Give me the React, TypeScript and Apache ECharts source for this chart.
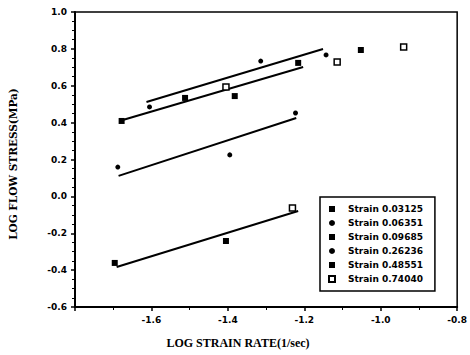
import React, { useEffect, useRef } from "react";
import * as echarts from "echarts";

const seriesNames = [
  "Strain 0.03125",
  "Strain 0.06351",
  "Strain 0.09685",
  "Strain 0.26236",
  "Strain 0.48551",
  "Strain 0.74040",
];

const s1 = [[-1.696, -0.361], [-1.405, -0.242]];
const s2 = [[-1.688, 0.159], [-1.395, 0.225], [-1.223, 0.452]];
const s3 = [[-1.678, 0.409], [-1.512, 0.534], [-1.382, 0.544]];
const s4 = [[-1.605, 0.485], [-1.314, 0.734], [-1.143, 0.767]];
const s5 = [[-1.216, 0.724], [-1.052, 0.794]];
const s6 = [[-1.231, -0.063], [-1.405, 0.593], [-1.114, 0.729], [-0.94, 0.81]];

const fit1 = [[-1.613, 0.512], [-1.151, 0.799]];
const fit2 = [[-1.675, 0.414], [-1.203, 0.702]];
const fit3 = [[-1.686, 0.111], [-1.221, 0.425]];
const fit4 = [[-1.691, -0.383], [-1.216, -0.079]];

const symbols = ["rect", "circle", "rect", "circle", "rect", "rect"];
const pointData = [s1, s2, s3, s4, s5, s6];
const fits = [fit1, fit2, fit3, fit4];

export default function App() {
  const ref = useRef<HTMLDivElement>(null);
  useEffect(() => {
    document.body.style.margin = "0";
    const chart = echarts.init(ref.current!, null, { renderer: "svg" });
    const scatter = pointData.map((d, i) => ({
      name: seriesNames[i],
      type: "scatter",
      data: d,
      symbol: symbols[i],
      symbolSize: symbols[i] === "circle" ? 5 : 6,
      itemStyle:
        i === 5
          ? { color: "#fff", borderColor: "#000", borderWidth: 1.5, opacity: 1 }
          : { color: "#000", opacity: 1 },
      z: 3,
    }));
    const lines = fits.map((d) => ({
      type: "line",
      data: d,
      showSymbol: false,
      symbol: "none",
      lineStyle: { color: "#000", width: 2 },
      z: 2,
      silent: true,
    }));
    chart.setOption({
      animation: false,
      grid: {
        left: 75,
        right: 10,
        top: 12,
        bottom: 48,
        show: true,
        borderColor: "#000",
        borderWidth: 1.5,
      },
      xAxis: {
        type: "value",
        min: -1.8,
        max: -0.8,
        interval: 0.2,
        axisLine: { show: true, onZero: false, lineStyle: { color: "#000", width: 2 } },
        axisTick: { show: true, inside: false, length: 4, lineStyle: { color: "#000", width: 1.5 } },
        minorTick: { show: true, splitNumber: 2, length: 3, lineStyle: { color: "#000", width: 1 } },
        splitLine: { show: false },
        axisLabel: {
          showMinLabel: false,
          color: "#000",
          fontFamily: "DejaVu Sans",
          fontWeight: "bold",
          fontSize: 9,
          margin: 8,
          formatter: (v: number) => (Math.abs(v + 1.8) < 1e-6 ? "" : v.toFixed(1)),
        },
      },
      yAxis: {
        type: "value",
        min: -0.6,
        max: 1.0,
        interval: 0.2,
        axisLine: { show: true, onZero: false, lineStyle: { color: "#000", width: 2 } },
        axisTick: { show: true, inside: false, length: 4, lineStyle: { color: "#000", width: 1.5 } },
        minorTick: { show: true, splitNumber: 4, length: 3, lineStyle: { color: "#000", width: 1 } },
        splitLine: { show: false },
        axisLabel: {
          color: "#000",
          fontFamily: "DejaVu Sans",
          fontWeight: "bold",
          fontSize: 9,
          margin: 8,
          formatter: (v: number) => (Math.abs(v) < 1e-6 ? "0.0" : v.toFixed(1)),
        },
      },
      legend: {
        data: seriesNames,
        orient: "vertical",
        left: 320,
        top: 197,
        backgroundColor: "#fff",
        borderColor: "#000",
        borderWidth: 1.5,
        padding: [7, 12, 7, 8],
        itemWidth: 6,
        itemHeight: 6,
        itemGap: 4,
        textStyle: {
          color: "#000",
          fontFamily: "DejaVu Sans",
          fontWeight: "bold",
          fontSize: 9,
          lineHeight: 10,
          padding: [0, 0, 0, 8],
        },
      },
      graphic: [
        {
          type: "text",
          x: 238,
          y: 343,
          style: {
            text: "LOG STRAIN RATE(1/sec)",
            fontFamily: "Liberation Serif",
            fontWeight: "bold",
            fontSize: 12,
            fill: "#000",
            textAlign: "center",
            textVerticalAlign: "middle",
          },
        },
        {
          type: "text",
          x: 13,
          y: 164,
          rotation: Math.PI / 2,
          style: {
            text: "LOG FLOW STRESS(MPa)",
            fontFamily: "DejaVu Serif",
            fontWeight: "bold",
            fontSize: 10.5,
            fill: "#000",
            textAlign: "center",
            textVerticalAlign: "middle",
          },
        },
      ],
      series: [...scatter, ...lines],
    });
    return () => chart.dispose();
  }, []);
  return (
    <div
      ref={ref}
      style={{ position: "absolute", left: 0, top: 0, width: 470, height: 355 }}
    />
  );
}
